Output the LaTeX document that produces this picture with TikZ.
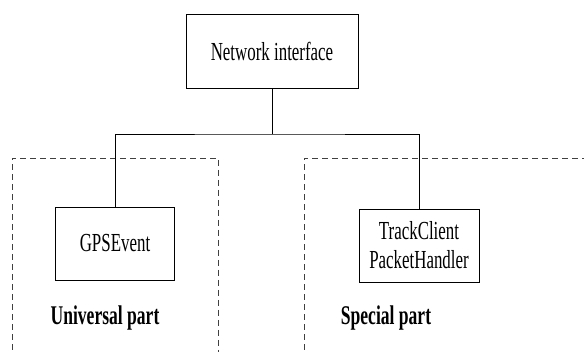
\documentclass[tikz,border=0pt]{standalone}
\usepackage{fontspec}
\newfontfamily\narrowserif[FakeStretch=0.65]{Liberation Serif}
\tikzset{
  block/.style={draw, line width=0.8pt, inner sep=0pt, align=center,
    font=\narrowserif\fontsize{26}{29}\selectfont},
  partlabel/.style={inner sep=0pt, font=\narrowserif\bfseries\fontsize{27}{30}\selectfont},
  region/.style={draw=black!75, line width=0.8pt, dash pattern=on 6pt off 4pt},
  wire/.style={draw, line width=0.8pt}
}
\begin{document}
\begin{tikzpicture}[x=1pt,y=1pt]
\useasboundingbox (0,0) rectangle (584,-352);
\clip (0,0) rectangle (584,-352);
% dashed regions, open at the bottom (and right)
\draw[region] (12,-360) -- (12,-158) -- (218,-158) -- (218,-360);
\draw[region] (304,-360) -- (304,-158) -- (600,-158);
% blocks
\node[block, minimum width=172pt, minimum height=74pt] (net) at (272,-51) {Network interface};
\node[block, minimum width=119pt, minimum height=73pt] (gps) at (115,-243.5) {GPSEvent};
\node[block, minimum width=120pt, minimum height=73pt] (tc) at (419,-245.5) {TrackClient\\PacketHandler};
% tree connectors
\coordinate (j) at (272,-134);
\draw[wire] (net.south) -- (j);
\draw[wire] (gps.north) |- (j) -| (tc.north);
% region labels
\node[partlabel] (ul) at (105,-318) {Universal part};
\node[partlabel] (sl) at (386,-318) {Special part};
\end{tikzpicture}
\end{document}
